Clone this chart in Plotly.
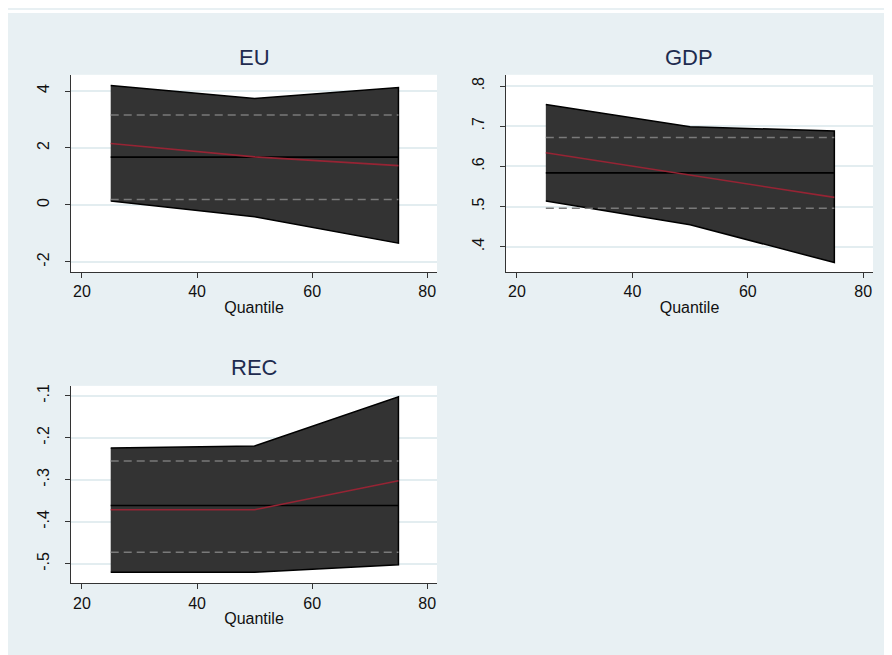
import plotly.graph_objects as go

# ---------------- data ----------------
quantiles = [25, 50, 75]

panel_names = ["EU", "GDP", "REC"]

# quantile regression estimates (red line)
eu_coef = [2.16, 1.69, 1.38]
gdp_coef = [0.634, 0.578, 0.523]
rec_coef = [-0.371, -0.371, -0.302]

# quantile regression confidence bands
eu_upper = [4.19, 3.74, 4.12]
eu_lower = [0.14, -0.41, -1.34]
gdp_upper = [0.754, 0.699, 0.688]
gdp_lower = [0.514, 0.455, 0.361]
rec_upper = [-0.224, -0.219, -0.102]
rec_lower = [-0.520, -0.520, -0.502]

# OLS estimate and its confidence interval (horizontal lines)
eu_ols = [1.68, 0.19, 3.16]
gdp_ols = [0.584, 0.496, 0.672]
rec_ols = [-0.361, -0.472, -0.255]

x_ticks = [20, 40, 60, 80]
eu_ticks = [-2, 0, 2, 4]
eu_ticklabels = ["-2", "0", "2", "4"]
gdp_ticks = [0.4, 0.5, 0.6, 0.7, 0.8]
gdp_ticklabels = [".4", ".5", ".6", ".7", ".8"]
rec_ticks = [-0.5, -0.4, -0.3, -0.2, -0.1]
rec_ticklabels = ["-.5", "-.4", "-.3", "-.2", "-.1"]

# ---------------- layout geometry ----------------
# the page body adds an 8px margin, so the figure is 8px smaller than the window
W, H = 884, 647
BG = "#e8f0f3"
FONT = "Liberation Sans, Arial, sans-serif"

panels = [
    dict(name="EU", coef=eu_coef, up=eu_upper, lo=eu_lower, ols=eu_ols,
         ticks=eu_ticks, labels=eu_ticklabels, yrange=[-2.36, 4.57],
         xdom=[63 / W, 429 / W], ydom=[1 - 263 / H, 1 - 65 / H], ty=48),
    dict(name="GDP", coef=gdp_coef, up=gdp_upper, lo=gdp_lower, ols=gdp_ols,
         ticks=gdp_ticks, labels=gdp_ticklabels, yrange=[0.337, 0.828],
         xdom=[498 / W, 865 / W], ydom=[1 - 263 / H, 1 - 65 / H], ty=48),
    dict(name="REC", coef=rec_coef, up=rec_upper, lo=rec_lower, ols=rec_ols,
         ticks=rec_ticks, labels=rec_ticklabels, yrange=[-0.546, -0.076],
         xdom=[63 / W, 429 / W], ydom=[1 - 575 / H, 1 - 377 / H], ty=359),
]

fig = go.Figure()
layout = dict(
    width=W, height=H,
    margin=dict(l=0, r=0, t=0, b=0),
    paper_bgcolor=BG,
    plot_bgcolor="white",
    showlegend=False,
    font=dict(family=FONT, size=16, color="#111111"),
    annotations=[],
    shapes=[
        dict(type="rect", xref="paper", yref="paper", x0=0, x1=1, y0=1 - 3 / H, y1=1,
             fillcolor="white", line=dict(width=0), layer="above"),
    ],
)

for i, p in enumerate(panels, start=1):
    xa = "x" if i == 1 else f"x{i}"
    ya = "y" if i == 1 else f"y{i}"
    # confidence band polygon
    fig.add_trace(go.Scatter(
        x=quantiles + quantiles[::-1],
        y=p["up"] + p["lo"][::-1],
        fill="toself", fillcolor="#333333",
        line=dict(color="black", width=1.5),
        mode="lines", xaxis=xa, yaxis=ya, hoverinfo="skip"))
    # OLS CI dashed lines
    for v in p["ols"][1:]:
        fig.add_trace(go.Scatter(
            x=[quantiles[0], quantiles[-1]], y=[v, v], mode="lines",
            line=dict(color="#7a7a7a", width=1.5, dash="8px,5px"),
            xaxis=xa, yaxis=ya, hoverinfo="skip"))
    # OLS estimate
    fig.add_trace(go.Scatter(
        x=[quantiles[0], quantiles[-1]], y=[p["ols"][0]] * 2, mode="lines",
        line=dict(color="black", width=1.6), xaxis=xa, yaxis=ya, hoverinfo="skip"))
    # quantile estimate
    fig.add_trace(go.Scatter(
        x=quantiles, y=p["coef"], mode="lines",
        line=dict(color="#962434", width=1.6), xaxis=xa, yaxis=ya, hoverinfo="skip"))

    key = "" if i == 1 else str(i)
    layout["xaxis" + key] = dict(
        domain=p["xdom"], anchor=ya, range=[18.1, 81.7],
        tickvals=x_ticks, ticks="outside", ticklen=5, tickcolor="#333",
        showline=True, linecolor="#333", linewidth=1.2, showgrid=False,
        zeroline=False, tickfont=dict(size=16, color="#111"),
        title=dict(text="Quantile", font=dict(size=16, color="#111"), standoff=2),
    )
    layout["yaxis" + key] = dict(
        domain=p["ydom"], anchor=xa, range=p["yrange"],
        tickvals=p["ticks"], ticktext=p["labels"], tickangle=-90,
        ticks="outside", ticklen=5, tickcolor="#333",
        ticklabelstandoff=10,
        showline=True, linecolor="#333", linewidth=1.2,
        showgrid=True, gridcolor="#e3edf0", gridwidth=1.5, zeroline=False,
        tickfont=dict(size=16, color="#111"),
    )
    layout["annotations"].append(dict(
        text=p["name"], xref="paper", yref="paper",
        x=(p["xdom"][0] + p["xdom"][1]) / 2, y=1 - p["ty"] / H,
        xanchor="center", yanchor="middle", showarrow=False,
        font=dict(size=22, color="#1e2b4f", family=FONT)))

fig.update_layout(**layout)
fig.write_html("out.html")
